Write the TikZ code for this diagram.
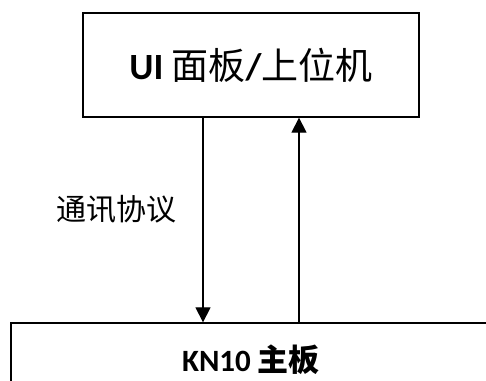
\documentclass[tikz,border=0pt]{standalone}
\usepackage{fontspec}
\setmainfont{Carlito}
\newfontfamily\cjk{Noto Sans CJK SC}
\usetikzlibrary{arrows.meta}
\tikzset{
  boxnode/.style={draw,line width=1.3pt,inner sep=0pt,font=\bfseries\fontsize{31}{31}\selectfont},
  linkarrow/.style={line width=1.2pt,-{Triangle[width=15pt,length=15pt]}}
}
\begin{document}
\begin{tikzpicture}[x=1pt,y=1pt]
\clip(0,0)rectangle(486,380);
%boxes
\node[boxnode,font=\bfseries\fontsize{37}{37}\selectfont,minimum width=336pt,minimum height=104pt](ui)at(251,315){UI {\cjk\mdseries 面板}/{\cjk\mdseries 上位机}};
\node[boxnode,minimum width=480pt,minimum height=73pt](kn10)at(251,20.5){KN10 {\cjk 主板}};
%arrow columns
\coordinate(dn)at(203,0);
\coordinate(up)at(299,0);
\draw[linkarrow](ui.south -| dn)--(kn10.north -| dn);
\draw[linkarrow](kn10.north -| up)--(ui.south -| up);
%label
\node[font=\cjk\fontsize{30}{30}\selectfont](proto)at(116,171){通讯协议};
\end{tikzpicture}
\end{document}
